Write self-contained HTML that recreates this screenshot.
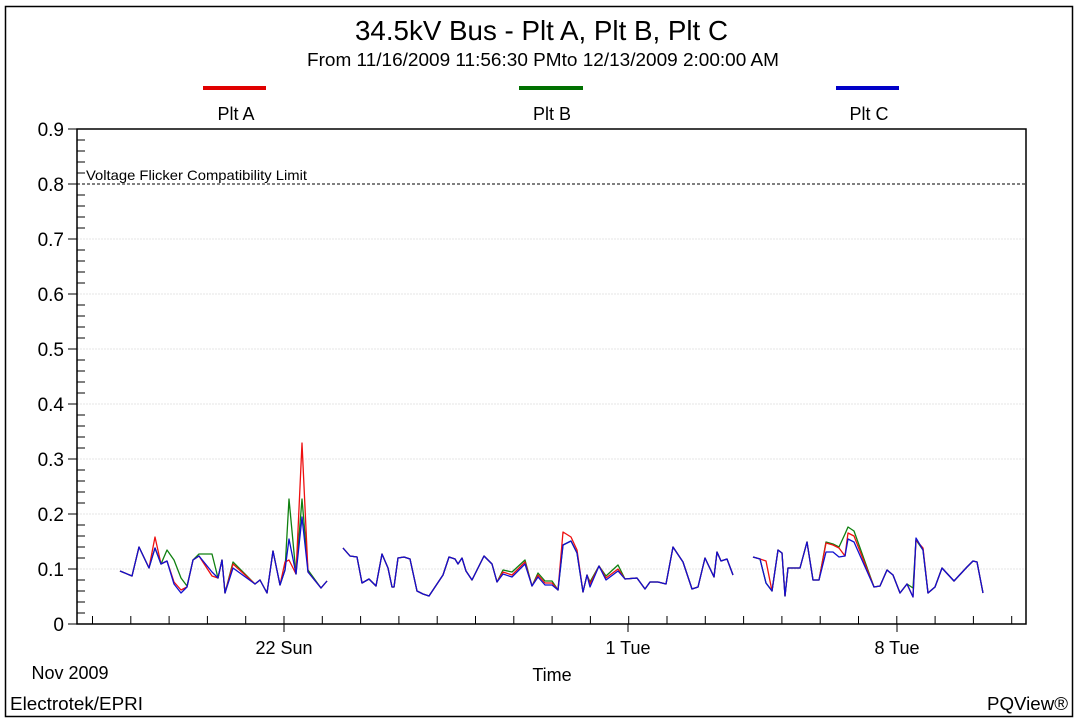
<!DOCTYPE html>
<html><head><meta charset="utf-8"><style>
html,body{margin:0;padding:0;background:#fff;}
svg{display:block;font-family:"Liberation Sans",Arial,sans-serif;}
</style></head><body>
<svg id="s" width="1080" height="727" viewBox="0 0 1080 727" xmlns="http://www.w3.org/2000/svg">
<rect x="5.5" y="6.5" width="1067" height="710" fill="none" stroke="#000" stroke-width="1.5"/>
<text x="355" y="40" font-size="28" textLength="373" lengthAdjust="spacingAndGlyphs">34.5kV Bus - Plt A, Plt B, Plt C</text>
<text x="307" y="66" font-size="18" textLength="472" lengthAdjust="spacingAndGlyphs">From 11/16/2009 11:56:30 PMto 12/13/2009 2:00:00 AM</text>
<line x1="203" y1="88" x2="266" y2="88" stroke="#e00000" stroke-width="4"/>
<line x1="519" y1="88" x2="583" y2="88" stroke="#007000" stroke-width="4"/>
<line x1="836" y1="88" x2="899" y2="88" stroke="#0000c8" stroke-width="4"/>
<text x="236" y="120" font-size="18" text-anchor="middle">Plt A</text>
<text x="552" y="120" font-size="18" text-anchor="middle">Plt B</text>
<text x="869" y="120" font-size="18" text-anchor="middle">Plt C</text>
<g id="grid"></g>
<rect x="77" y="129" width="949" height="495" fill="none" stroke="#000" stroke-width="1.5"/>
<line x1="77" y1="184" x2="1026" y2="184" stroke="#000" stroke-width="1" stroke-dasharray="3,2"/>
<text x="86" y="180" font-size="14" textLength="221" lengthAdjust="spacingAndGlyphs">Voltage Flicker Compatibility Limit</text>
<g id="data"></g>
<text x="284" y="654" font-size="18" text-anchor="middle">22 Sun</text>
<text x="628" y="654" font-size="18" text-anchor="middle">1 Tue</text>
<text x="897" y="654" font-size="18" text-anchor="middle">8 Tue</text>
<text x="70" y="679" font-size="18" text-anchor="middle">Nov 2009</text>
<text x="552" y="681" font-size="18" text-anchor="middle">Time</text>
<text x="10" y="710" font-size="18" textLength="133" lengthAdjust="spacingAndGlyphs">Electrotek/EPRI</text>
<text x="987" y="710" font-size="18" textLength="81" lengthAdjust="spacingAndGlyphs">PQView®</text>
</svg>
<script>
var NS="http://www.w3.org/2000/svg";
function el(t,a,p){var e=document.createElementNS(NS,t);for(var k in a)e.setAttribute(k,a[k]);(p||document.getElementById('s')).appendChild(e);return e;}
var g=document.getElementById('grid');
var labs=["0","0.1","0.2","0.3","0.4","0.5","0.6","0.7","0.8","0.9"];
for(var i=0;i<=9;i++){var y=624-i*55;
 if(i>0&&i<9&&i!=8) el('line',{x1:77,y1:y,x2:1026,y2:y,stroke:'#e4e4e4','stroke-dasharray':'2,1'},g);
 el('line',{x1:68,y1:y,x2:77,y2:y,stroke:'#000'},g);
 var t=el('text',{x:64,y:y+7,'font-size':19,'text-anchor':'end'},g);t.textContent=labs[i];
 if(i<9)for(var j=1;j<5;j++){var yy=y-j*11;el('line',{x1:77,y1:yy,x2:85,y2:yy,stroke:'#000'},g);}
}
for(var d=-5;d<=19;d++){var x=284+d*38.3;if(x<78||x>1025)continue;
 el('line',{x1:x,y1:616,x2:x,y2:624,stroke:'#000'},g);}
[284,628,897].forEach(function(x){el('line',{x1:x,y1:624,x2:x,y2:632,stroke:'#000'},g);});
var segs=[
[[120,571],[132,576],[139,547],[149,568],[155,548],[161,564],[167,561],[174,584],[181,593],[187,587],[193,560],[199,556],[212,572],[218,578],[222,560],[225,593],[233,568],[255,584],[260,580],[267,593],[273,551],[280,585],[285,570],[289,539],[296,574],[302,517],[308,572],[321,588],[327,581]],
[[343,548],[350,556],[357,557],[362,583],[369,579],[376,586],[382,554],[388,568],[392,587],[394,587],[398,558],[404,557],[410,559],[417,591],[423,594],[429,596],[443,575],[449,557],[455,559],[458,564],[462,558],[466,571],[472,580],[484,556],[492,564],[497,582],[503,574],[512,577],[525,564],[532,586],[538,577],[545,585],[552,585],[558,590],[563,545],[571,541],[577,553],[583,592],[587,575],[590,587],[599,566],[606,580],[618,571],[625,579],[637,578],[645,589],[650,582],[658,582],[666,584],[673,547],[683,562],[692,589],[698,587],[705,558],[714,577],[717,552],[721,561],[727,559],[733,575]],
[[753,557],[760,559],[766,583],[772,591],[778,550],[782,553],[785,596],[788,568],[800,568],[807,542],[813,580],[819,580],[826,552],[833,552],[839,557],[845,556],[848,539],[854,542],[874,587],[880,586],[887,570],[893,575],[900,593],[907,584],[913,597],[916,538],[923,550],[928,593],[935,587],[942,568],[954,581],[967,567],[973,561],[977,562],[983,593]]
];
var red={ "0,4":537,"0,7":582,"0,8":590,"0,12":576,"0,13":578,"0,15":593,"0,16":564,"0,22":562,"0,23":560,"0,25":443,
 "1,26":572,"1,27":575,"1,28":562,"1,30":575,"1,31":583,"1,32":583,"1,34":532,"1,35":537,"1,36":550,"1,39":584,"1,41":578,"1,42":569,
 "2,1":559,"2,2":561,"2,12":543,"2,13":545,"2,14":548,"2,16":533,"2,17":536,"2,25":540,"2,26":548};
var grn={ "0,6":550,"0,7":560,"0,8":578,"0,9":586,"0,11":554,"0,12":554,"0,16":562,"0,23":499,"0,25":499,"0,26":570,
 "1,26":570,"1,27":572,"1,28":560,"1,30":573,"1,31":581,"1,32":581,"1,39":582,"1,41":576,"1,42":565,
 "2,12":542,"2,13":544,"2,14":547,"2,15":534,"2,16":527,"2,17":531,"2,24":588,"2,25":540};
var dg=document.getElementById('data');
function draw(ov,col){segs.forEach(function(s,si){var p=s.map(function(q,qi){var k=si+","+qi;return q[0]+","+(ov&&ov[k]!==undefined?ov[k]:q[1]);}).join(" ");
 el('polyline',{points:p,fill:'none',stroke:col,'stroke-width':1.3,'stroke-linejoin':'round'},dg);});}
draw(grn,'#108010');draw(red,'#ee1010');draw(null,'#1010d0');
</script>
</body></html>
